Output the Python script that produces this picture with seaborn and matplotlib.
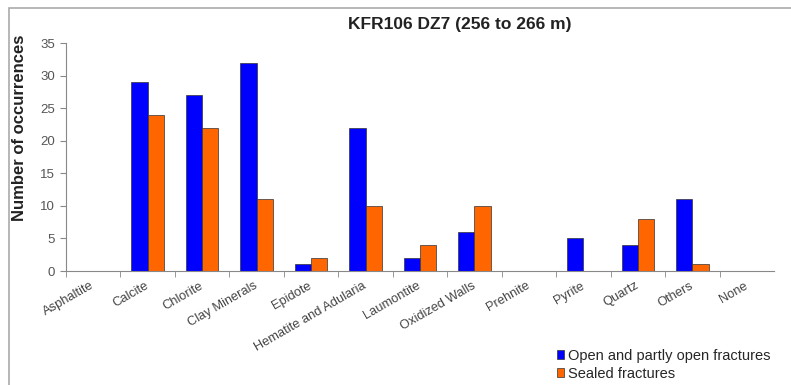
import pandas as pd
import numpy as np
import seaborn as sns
import matplotlib.pyplot as plt
from matplotlib.patches import Rectangle

minerals = ["Asphaltite", "Calcite", "Chlorite", "Clay Minerals", "Epidote",
            "Hematite and Adularia", "Laumontite", "Oxidized Walls", "Prehnite",
            "Pyrite", "Quartz", "Others", "None"]
open_fractures = [0, 29, 27, 32, 1, 22, 2, 6, 0, 5, 4, 11, 0]
sealed_fractures = [0, 24, 22, 11, 2, 10, 4, 10, 0, 0, 8, 1, 0]
series_names = ["Open and partly open fractures", "Sealed fractures"]

df = pd.DataFrame({
    "mineral": minerals * 2,
    "count": open_fractures + sealed_fractures,
    "type": [series_names[0]] * len(minerals) + [series_names[1]] * len(minerals),
})

sns.set_style("white")
plt.rcParams['font.family'] = ['Liberation Sans', 'DejaVu Sans']

fig = plt.figure(figsize=(7.91, 3.85), dpi=100)
ax = fig.add_axes([66/791, 1 - 271/385, (774-66)/791, (271-43)/385])

sns.barplot(data=df, x="mineral", y="count", hue="type", order=minerals,
            hue_order=series_names, palette=["#0000FF", "#FF6600"], saturation=1,
            width=0.6, edgecolor="#333333", linewidth=0.5, ax=ax)

ax.set_xlim(-0.5, len(minerals) - 0.5)
ax.set_ylim(0, 35)
ax.set_yticks(np.arange(0, 36, 5))
ax.tick_params(axis="y", labelsize=9.5, labelcolor="#555555", color="#888888",
               length=4, direction="out", left=True, pad=4)
ax.tick_params(axis="x", which="major", length=0, labelsize=9.3, labelcolor="#444444", pad=10)
ax.set_xticks(np.arange(len(minerals)) - 0.5, minor=True)
ax.tick_params(axis="x", which="minor", length=4, bottom=True, color="#888888")
plt.setp(ax.get_xticklabels(), rotation=30, ha="right", va="center", rotation_mode="anchor")
for s in ["top", "right"]:
    ax.spines[s].set_visible(False)
for s in ["left", "bottom"]:
    ax.spines[s].set_color("#888888")
ax.set_xlabel("")
ax.set_ylabel("Number of occurrences", fontsize=12, fontweight="bold", color="#222222")
ax.yaxis.set_label_coords(-39/708, (271-128)/228)

fig.text(460/791, 1 - 24/385, "KFR106 DZ7 (256 to 266 m)", fontsize=12.5,
         fontweight="bold", ha="center", va="center", color="#222222")

ax.legend(loc="lower right", bbox_to_anchor=(771/791, 4/385), bbox_transform=fig.transFigure,
          frameon=False, fontsize=10.5, handlelength=0.5, handleheight=0.55,
          handletextpad=0.3, labelspacing=0.3, borderpad=0.0, borderaxespad=0.0)

fig.patches.append(Rectangle((9/791, -0.1), 1.1, 1 - 8/385 + 0.1, transform=fig.transFigure,
                             fill=False, edgecolor="#aaaaaa", linewidth=1.2))

fig.savefig("out.png", dpi=100)
